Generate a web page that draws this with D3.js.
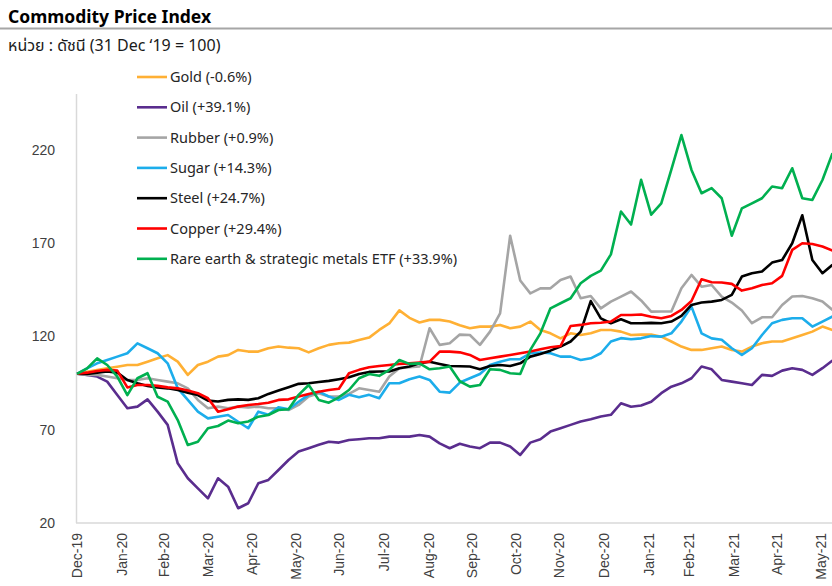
<!DOCTYPE html>
<meta charset="utf-8">
<style>
body { margin: 0; background: #fff; }
svg { display: block; font-family: "Noto Sans", "Noto Sans Thai", "DejaVu Sans", sans-serif; }
.line { fill: none; stroke-width: 2.6px; stroke-linejoin: round; }
.axis text { fill: #404040; font-size: 14px; }
.legend text { fill: #262626; font-size: 14.5px; }
</style>
<svg width="832" height="586"></svg>
<script src="https://cdn.jsdelivr.net/npm/d3@7"></script>
<script>
// weekly sample dates (31 Dec 19 = 100)
var dates = ["2019-12-31",
  "2020-01-07","2020-01-14","2020-01-21","2020-01-28","2020-02-04","2020-02-11","2020-02-18","2020-02-25",
  "2020-03-03","2020-03-10","2020-03-17","2020-03-24","2020-03-31","2020-04-07","2020-04-14","2020-04-21",
  "2020-04-28","2020-05-05","2020-05-12","2020-05-19","2020-05-26","2020-06-02","2020-06-09","2020-06-16",
  "2020-06-23","2020-06-30","2020-07-07","2020-07-14","2020-07-21","2020-07-28","2020-08-04","2020-08-11",
  "2020-08-18","2020-08-25","2020-09-01","2020-09-08","2020-09-15","2020-09-22","2020-09-29","2020-10-06",
  "2020-10-13","2020-10-20","2020-10-27","2020-11-03","2020-11-10","2020-11-17","2020-11-24","2020-12-01",
  "2020-12-08","2020-12-15","2020-12-22","2020-12-29","2021-01-05","2021-01-12","2021-01-19","2021-01-26",
  "2021-02-02","2021-02-09","2021-02-16","2021-02-23","2021-03-02","2021-03-09","2021-03-16","2021-03-23",
  "2021-03-30","2021-04-06","2021-04-13","2021-04-20","2021-04-27","2021-05-04","2021-05-11","2021-05-18",
  "2021-05-25","2021-06-01","2021-06-08"];

var gold = [100,101.1,102,103,103.8,104.7,104.7,106.5,108.3,110,106.5,99.4,104.7,106.5,109.2,110,112.8,111.9,111.9,113.7,
  114.6,114,113.7,111.5,113.7,115.5,116.4,116.7,118.1,119.4,123.5,127,134,130,127.5,128.9,128.9,128,
  126,124.4,125.3,125.3,126.2,124.4,125.3,128,123.5,121.7,119,121.7,120.8,121.7,123.5,123.5,122.6,120.8,121,121,
  119.9,117.3,114.6,112.8,112.8,113.7,114.6,112.8,111.9,114.6,116.4,117.3,117.3,119,120.8,122.6,125.3,123.5];

var oil = [100,99.4,98.5,95.8,88.6,81.5,82.4,86.3,79.7,72.6,52,44,38.6,33.2,44,39.5,27.9,30.6,41.3,43.1,
  48.4,53.8,58.3,60.1,61.9,63.6,63.1,64.5,64.9,65.4,65.4,66.3,66.3,66.3,67.2,66.3,62.7,60.1,
  62.5,61,60.1,63.1,63.1,61,56.5,63.1,64.9,69,70.8,72.6,74.4,75.6,77.1,78,84.2,82.3,83,85,
  89.6,93.1,94.9,97.6,103.9,102.4,96.7,95.8,94.9,94,99.4,98.9,101.7,103,102.1,99.4,103,107.1];

var rubber = [100,99.4,99.4,98.5,97.6,96.7,96.7,97.6,96.7,95.8,94.9,92.2,86,81.5,82.4,81.5,82.4,82,82.4,81.5,
  81.5,80.6,83.3,87.8,89.6,87.8,87.8,89.2,92.2,91.3,90.4,98.5,103,103.5,103.9,124.4,115.5,116.4,
  121,120.8,115.5,122.6,132.4,174,150,143.1,145.8,145.8,150.3,152.1,140.5,141.7,135.1,138.7,141.4,144.1,139.3,133.3,
  133.4,133.4,145.9,153,146.7,147.6,141.4,138.2,133.9,127.1,130.3,130.3,136.9,141.4,141.7,140.5,138.7,134.2];

var sugar = [100,102.9,105.6,107.4,109.2,111,116.3,113.7,111,105.6,92.2,86,79.7,76.1,77,77.9,74.3,70.8,79.7,78,
  82,81,85,88.7,90.4,87.8,86,88.7,87.4,88.7,86.9,94.9,94.9,97.1,98.5,96.7,90.4,89.9,
  95.3,97.6,99.9,104.7,106.5,107.8,107.8,111,111.4,111,109.2,109.2,107.4,108.3,111,117.3,119.1,118.5,119,120.2,
  119.9,121.7,128,136,121.7,119,118.2,113.7,110.1,113.7,120.8,127.1,128.9,129.8,129.8,125.3,128,130.7];

var steel = [100,99.9,100.6,101.2,100.6,96.7,94.9,93.5,92.7,92.2,91.3,89.9,88.6,85.6,85.1,86,86.3,86,86.9,89.2,
  91,92.8,94.6,94.9,95.6,96.2,97.1,98.1,99.9,101,101.2,101.2,103,103.9,105.6,106.5,105.3,104.2,
  104,103.9,102.4,104.2,104.7,104.2,105.6,109.2,110.6,112.4,114.6,117.3,122.6,139,129.7,127.1,129.2,127.1,127.1,127.3,
  127.1,128,131,136.9,138.2,138.7,139.6,142.3,152.1,153.9,154.8,159.6,161,170,185,161,153.9,158.4];

var copper = [100,100.6,101.5,102.1,101.7,92.7,94,94,93.5,92.7,92.2,91,89.6,86.9,79.7,81,82.4,83.3,83.8,84.5,
  86,86.3,87.8,89.2,90.4,91.3,92,100.3,102.1,103.5,104.2,104.7,105.3,105.6,106,106.5,111.9,111.9,
  111.5,110.1,107.4,108.3,109.2,110.1,111,111.9,113.1,114.2,114.9,125.6,126.2,127.1,127.4,128,131.5,131.5,131.8,130.6,
  129.8,131,134.2,139,150.7,149.1,148.9,148.2,144.6,145.9,147.6,148.5,152.5,166.4,170,169.6,168.2,166];

var rareEarth = [100,102.9,108.3,104.7,98.5,88.6,97.6,100.3,87.7,85.1,75.2,61.8,63.6,70.8,72,74.9,73.5,74.4,77,77.9,
  80.6,81,88.7,94,86,84.5,87.4,91.3,97.6,99.9,98.9,102.1,107.4,105.3,105.6,102.4,103,103.9,
  96,93.1,94,102.4,102.1,100.3,99.9,112.8,121.7,135.1,137.8,140.5,148.5,152.5,155.3,164,187,180,204,185.3,
  191.4,209.5,228,209.3,196.8,199.5,194.1,174,188.7,191.4,194.1,200.4,199.5,210.2,194.1,193.2,203.9,218.2];

var seriesNames = ["Gold (-0.6%)", "Oil (+39.1%)", "Rubber (+0.9%)", "Sugar (+14.3%)",
  "Steel (+24.7%)", "Copper (+29.4%)", "Rare earth & strategic metals ETF (+33.9%)"];
var seriesValues = [gold, oil, rubber, sugar, steel, copper, rareEarth];
var colors = ["#ffb034", "#5a2d8e", "#a5a5a5", "#1cadeb", "#000000", "#ff0000", "#00b050"];

var yTicks = [20, 70, 120, 170, 220];
var xTicks = ["2019-12-31","2020-01-31","2020-02-29","2020-03-31","2020-04-30","2020-05-31","2020-06-30",
  "2020-07-31","2020-08-31","2020-09-30","2020-10-31","2020-11-30","2020-12-31","2021-01-31","2021-02-28",
  "2021-03-31","2021-04-30","2021-05-31"];

var parse = d3.timeParse("%Y-%m-%d");
var dateObjs = dates.map(parse);

var svg = d3.select("svg");

var x = d3.scaleTime()
    .domain([parse("2019-12-31"), parse("2021-05-31")])
    .range([77, 821]);
var y = d3.scaleLinear()
    .domain([20, 250])
    .range([523, 94]);

// title
svg.append("text")
    .attr("x", 8).attr("y", 23)
    .style("font-size", "17.5px").style("font-weight", "bold").style("fill", "#000")
    .text("Commodity Price Index");
svg.append("line")
    .attr("x1", 0).attr("x2", 832).attr("y1", 28.5).attr("y2", 28.5)
    .attr("stroke", "#a6a6a6").attr("stroke-width", 2);
svg.append("text")
    .attr("x", 8).attr("y", 51)
    .style("font-size", "16px").style("fill", "#1a1a1a")
    .text("หน่วย : ดัชนี (31 Dec ‘19 = 100)");

// axes
var yAxis = svg.append("g")
    .attr("class", "axis")
    .attr("transform", "translate(76,0)")
    .call(d3.axisLeft(y).tickValues(yTicks).tickSize(0).tickPadding(21));
yAxis.select(".domain").remove();

var xAxis = svg.append("g")
    .attr("class", "axis")
    .attr("transform", "translate(0,523)")
    .call(d3.axisBottom(x).tickValues(xTicks.map(parse)).tickSize(0).tickFormat(d3.timeFormat("%b-%y")));
xAxis.select(".domain").remove();
xAxis.selectAll("text")
    .attr("transform", "rotate(-90)")
    .attr("x", -10)
    .attr("y", 0)
    .attr("dy", "0.35em")
    .style("text-anchor", "end");

svg.append("line")
    .attr("x1", 76.5).attr("x2", 76.5).attr("y1", 94).attr("y2", 523)
    .attr("stroke", "#d9d9d9").attr("stroke-width", 1.5);
svg.append("line")
    .attr("x1", 76).attr("x2", 832).attr("y1", 523).attr("y2", 523)
    .attr("stroke", "#d9d9d9").attr("stroke-width", 1.5);

// lines
var line = d3.line()
    .x(function(d, i) { return x(dateObjs[i]); })
    .y(function(d) { return y(d); });

svg.append("g")
  .selectAll("path")
  .data(seriesValues)
  .enter().append("path")
    .attr("class", "line")
    .attr("stroke", function(d, i) { return colors[i]; })
    .attr("d", line);

// legend
var legend = svg.append("g").attr("class", "legend")
  .selectAll("g")
  .data(seriesNames)
  .enter().append("g")
    .attr("transform", function(d, i) { return "translate(137," + (77 + i * 30.3) + ")"; });
legend.append("line")
    .attr("x1", 0).attr("x2", 30)
    .attr("stroke", function(d, i) { return colors[i]; })
    .attr("stroke-width", 2.6);
legend.append("text")
    .attr("x", 33).attr("dy", "0.35em")
    .text(function(d) { return d; });
</script>
